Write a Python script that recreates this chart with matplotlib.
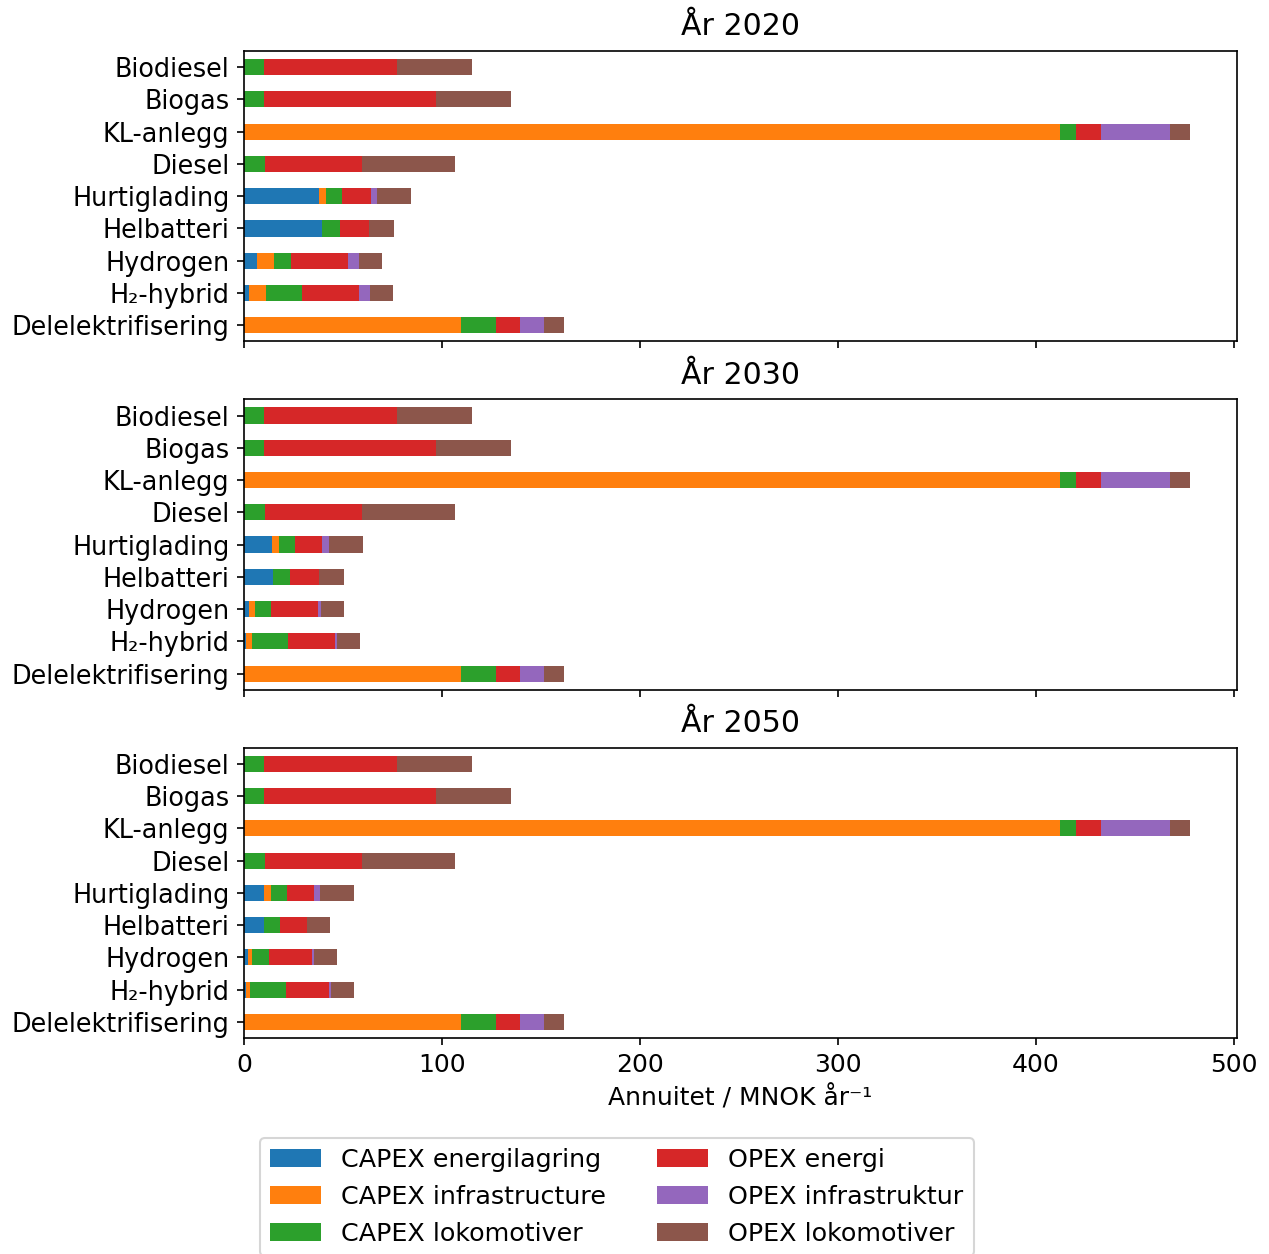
import matplotlib
matplotlib.use("Agg")
import matplotlib.pyplot as plt
import numpy as np

plt.rcParams["font.size"] = 12

categories = ["Biodiesel", "Biogas", "KL-anlegg", "Diesel", "Hurtiglading",
              "Helbatteri", "Hydrogen", "H₂-hybrid", "Delelektrifisering"]
series_names = ["CAPEX energilagring", "CAPEX infrastructure", "CAPEX lokomotiver",
                "OPEX energi", "OPEX infrastruktur", "OPEX lokomotiver"]
years = ["2020", "2030", "2050"]

# verdier per år, rekkefølge som series_names
capex_energilagring = {
    "2020": [0, 0, 0, 0, 37.9, 39.4, 6.6, 2.5, 0],
    "2030": [0, 0, 0, 0, 14.1, 14.8, 2.5, 1.0, 0],
    "2050": [0, 0, 0, 0, 10.1, 10.1, 2.0, 0.8, 0],
}
capex_infrastructure = {
    "2020": [0, 0, 412.1, 0, 3.5, 0, 8.6, 8.6, 109.6],
    "2030": [0, 0, 412.1, 0, 3.5, 0, 3.1, 3.0, 109.6],
    "2050": [0, 0, 412.1, 0, 3.5, 0, 2.0, 2.2, 109.6],
}
capex_lokomotiver = {
    "2020": [10.1, 10.1, 8.1, 10.6, 8.1, 9.1, 8.6, 18.2, 17.7],
    "2030": [10.1, 10.1, 8.1, 10.6, 8.1, 8.4, 8.1, 18.2, 17.7],
    "2050": [10.1, 10.1, 8.1, 10.6, 8.1, 8.1, 8.6, 18.2, 17.7],
}
opex_energi = {
    "2020": [67.2, 86.9, 12.6, 49.0, 14.6, 14.6, 28.8, 28.8, 12.1],
    "2030": [67.2, 86.9, 12.6, 49.0, 13.6, 14.7, 23.7, 23.8, 12.1],
    "2050": [67.2, 86.9, 12.6, 49.0, 13.6, 13.6, 21.7, 21.7, 12.1],
}
opex_infrastruktur = {
    "2020": [0, 0, 34.9, 0, 3.1, 0, 5.6, 5.6, 12.1],
    "2030": [0, 0, 34.9, 0, 3.5, 0, 1.5, 1.0, 12.1],
    "2050": [0, 0, 34.9, 0, 3.0, 0, 1.1, 1.0, 12.1],
}
opex_lokomotiver = {
    "2020": [37.9, 37.9, 10.1, 47.0, 17.1, 12.7, 11.6, 11.7, 10.1],
    "2030": [37.9, 37.9, 10.1, 47.0, 17.2, 12.6, 11.6, 11.6, 10.1],
    "2050": [37.9, 37.9, 10.1, 47.0, 17.2, 11.6, 11.6, 11.7, 10.1],
}
all_series = [capex_energilagring, capex_infrastructure, capex_lokomotiver,
              opex_energi, opex_infrastruktur, opex_lokomotiver]

fig, axes = plt.subplots(3, 1, sharex=True, figsize=(1269 / 150, 1254 / 150), dpi=150)
fig.subplots_adjust(left=0.1923, right=0.9748, top=0.9593, bottom=0.1722, hspace=0.2)

y = np.arange(len(categories))
for ax, year in zip(axes, years):
    left = np.zeros(len(categories))
    for i, (name, s) in enumerate(zip(series_names, all_series)):
        vals = np.array(s[year], dtype=float)
        ax.barh(y, vals, height=0.5, left=left, color=f"C{i}", label=name)
        left += vals
    ax.set_yticks(y)
    ax.set_yticklabels(categories, fontsize=12.25)
    ax.set_ylim(len(categories) - 0.5, -0.5)
    ax.set_title(f"År {year}", pad=7.5)

axes[-1].set_xlabel("Annuitet / MNOK år⁻¹")

handles, labels = axes[0].get_legend_handles_labels()
fig.legend(handles, labels, ncol=2, loc="upper left", borderaxespad=0,
           bbox_to_anchor=(0.2049, 0.0925), fontsize=12.2)

plt.savefig("out.png", dpi=150)
plt.close()
